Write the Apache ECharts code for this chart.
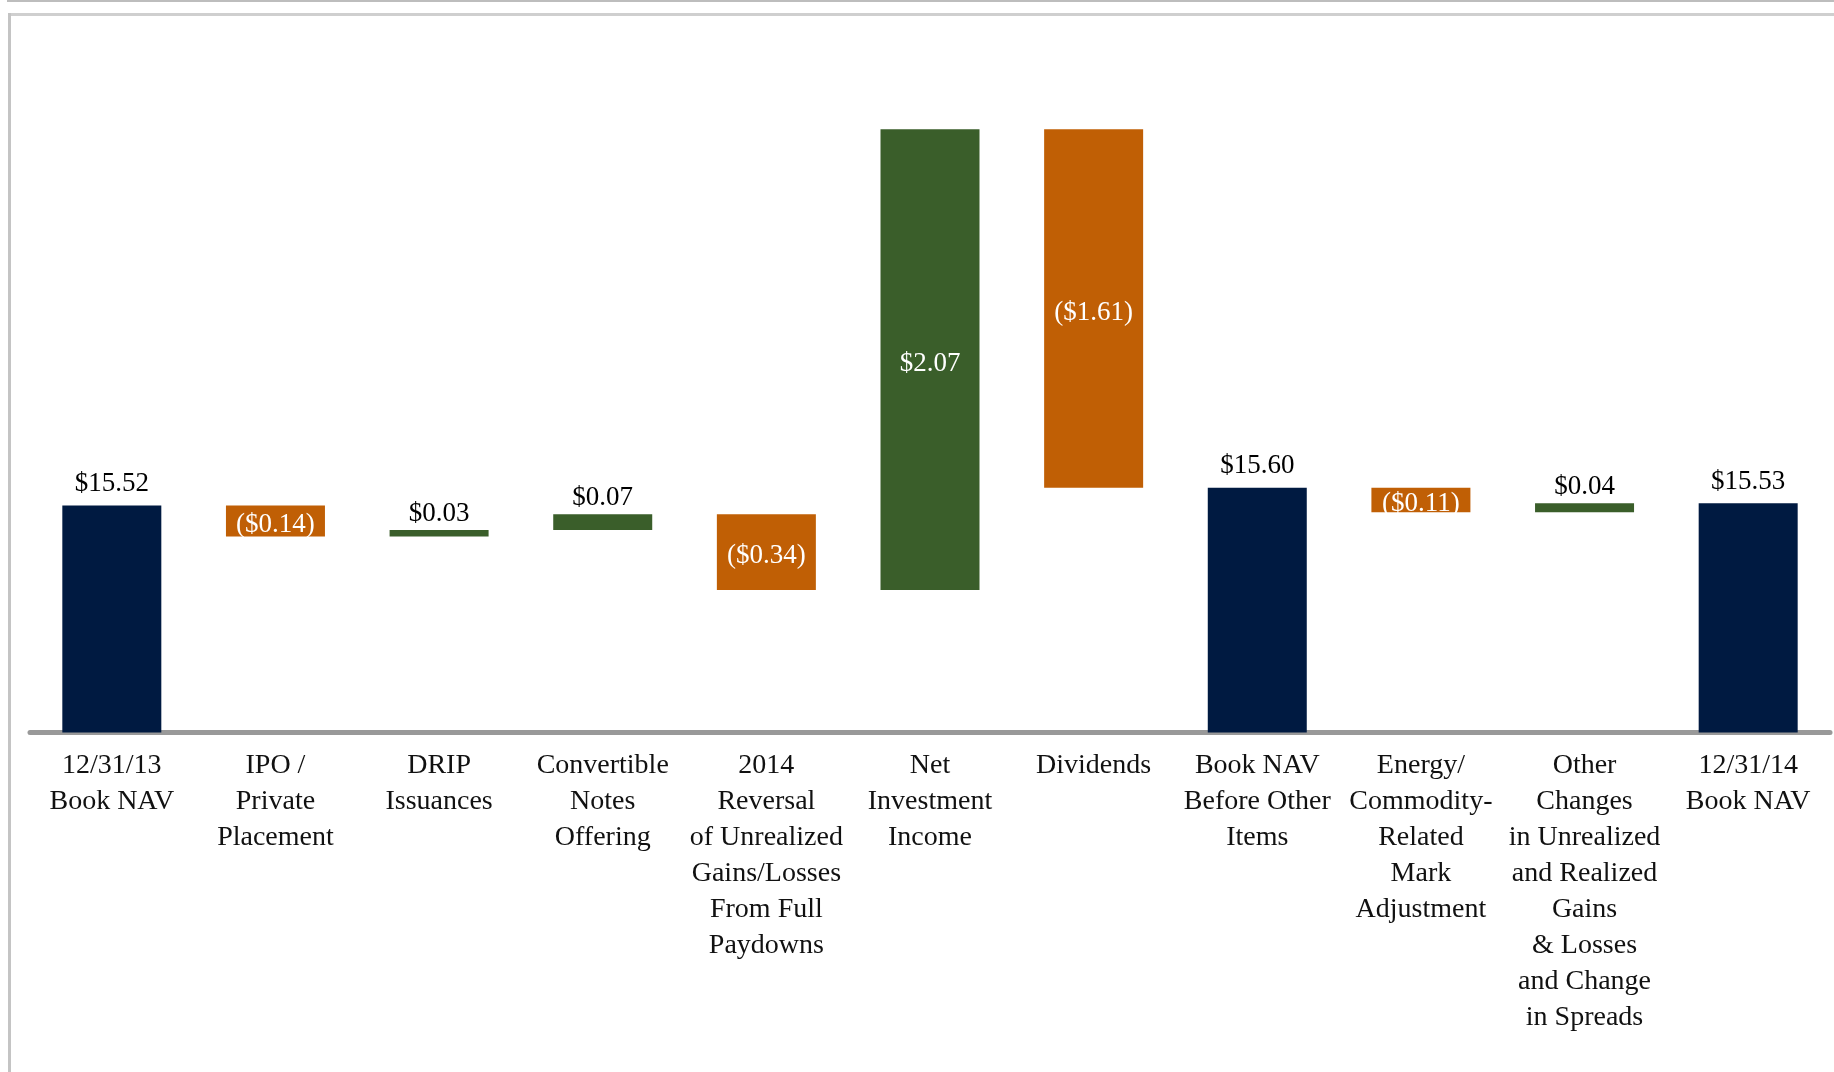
<!DOCTYPE html>
<html>
<head>
<meta charset="utf-8">
<script src="https://cdn.jsdelivr.net/npm/echarts@6/dist/echarts.min.js"></script>
<style>
html,body{margin:0;padding:0;background:#fff;}
#chart{width:1834px;height:1072px;}
</style>
</head>
<body>
<div id="chart"></div>
<script>
// ---- data ----
var categories = [
  "12/31/13\nBook NAV",
  "IPO /\nPrivate\nPlacement",
  "DRIP\nIssuances",
  "Convertible\nNotes\nOffering",
  "2014\nReversal\nof Unrealized\nGains/Losses\nFrom Full\nPaydowns",
  "Net\nInvestment\nIncome",
  "Dividends",
  "Book NAV\nBefore Other\nItems",
  "Energy/\nCommodity-\nRelated\nMark\nAdjustment",
  "Other\nChanges\nin Unrealized\nand Realized\nGains\n& Losses\nand Change\nin Spreads",
  "12/31/14\nBook NAV"
];
var values = [15.52, -0.14, 0.03, 0.07, -0.34, 2.07, -1.61, 15.60, -0.11, 0.04, 15.53];
var kinds = ["total","delta","delta","delta","delta","delta","delta","total","delta","delta","total"];
var labelInside = [false, true, false, false, true, true, true, false, true, false, false];

var colors = { total: "#001a41", up: "#3a5e2a", down: "#c05f05" };

// ---- build waterfall ----
var baseData = [], barData = [];
var running = 0;
for (var i = 0; i < values.length; i++) {
  var v = values[i];
  if (kinds[i] === "total") {
    running = v;
    baseData.push(0);
    barData.push({ value: v, itemStyle: { color: colors.total } });
  } else {
    var start = running, end = running + v;
    running = end;
    baseData.push(Math.min(start, end));
    barData.push({ value: Math.abs(v), itemStyle: { color: v >= 0 ? colors.up : colors.down } });
  }
}
function fmt(i) {
  var v = values[i];
  var s = "$" + Math.abs(v).toFixed(2);
  return v < 0 ? "(" + s + ")" : s;
}
barData.forEach(function (d, i) {
  if (labelInside[i]) {
    d.label = { position: "inside", color: "#fff", offset: [0, 4] };
  } else {
    d.label = { position: "top", color: "#000", distance: kinds[i] === "total" ? 8 : 3 };
  }
});

var chart = echarts.init(document.getElementById("chart"));
chart.setOption({
  backgroundColor: "#fff",
  animation: false,
  graphic: [
    { type: "rect", shape: { x: 7, y: 0, width: 1827, height: 2 }, style: { fill: "#bdbdbd" } },
    { type: "rect", shape: { x: 8, y: 13, width: 1826, height: 3 }, style: { fill: "#cfcfcf" } },
    { type: "rect", shape: { x: 8, y: 13, width: 3, height: 1059 }, style: { fill: "#c4c4c4" } }
  ],
  grid: { left: 30, right: 4, top: 64.7, bottom: 339.5 },
  xAxis: {
    type: "category",
    data: categories,
    axisLine: { show: true, lineStyle: { color: "#999", width: 5 } },
    axisTick: { show: false },
    axisLabel: {
      interval: 0, margin: 15,
      fontFamily: "Liberation Serif", fontSize: 28, lineHeight: 36,
      color: "#111", align: "center"
    }
  },
  yAxis: {
    type: "value", min: 14.5, max: 17.5,
    show: false, splitLine: { show: false }
  },
  series: [
    {
      type: "bar", stack: "w", data: baseData, barWidth: 99,
      itemStyle: { color: "transparent" }, silent: true
    },
    {
      type: "bar", stack: "w", data: barData, barWidth: 99,
      label: {
        show: true,
        fontFamily: "Liberation Serif", fontSize: 27,
        formatter: function (p) { return fmt(p.dataIndex); }
      }
    }
  ]
});
</script>
</body>
</html>
